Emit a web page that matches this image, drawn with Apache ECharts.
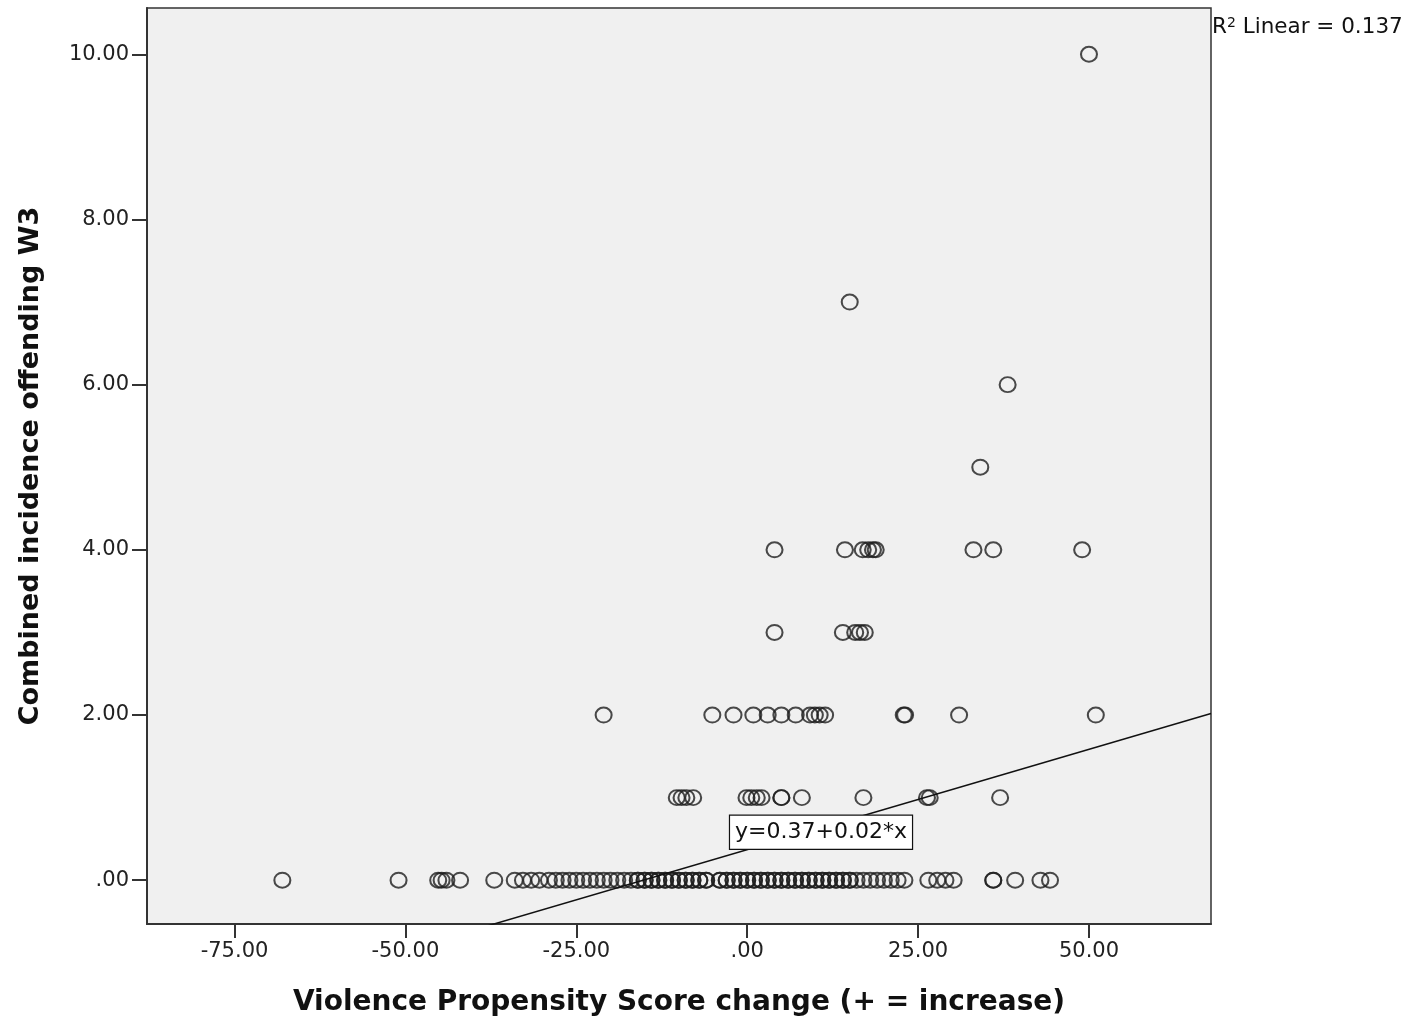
<!DOCTYPE html>
<html>
<head>
<meta charset="utf-8">
<script src="https://cdn.jsdelivr.net/npm/echarts@6/dist/echarts.min.js"></script>
<style>
html,body{margin:0;padding:0;background:#fff;}
#chart{width:1414px;height:1019px;}
</style>
</head>
<body>
<div id="chart"></div>
<script>
// Data (x = score change, y = offending count)
const row0 = [-68, -51, -45.2, -44.7, -44, -42, -37, -34, -32.8, -31.6, -30.4,
  -29, -28, -27, -26, -25, -24, -23, -22, -21, -20, -19, -18, -17, -16, -16, -15, -15, -14, -14,
  -13, -13, -12, -12, -11, -11, -10, -10, -9, -9, -8, -8, -7, -7, -6, -6, -4, -4, -3, -3, -2, -2,
  -1, -1, 0, 0, 1, 1, 2, 2, 3, 3, 4, 4, 5, 5, 6, 6, 7, 7, 8, 8, 9, 9, 10, 10, 11, 11, 12, 12,
  13, 13, 14, 14, 15, 15, 16, 17, 18, 19, 20, 21, 22, 23,
  26.5, 27.8, 29, 30.2, 36, 36, 39.2, 42.9, 44.3];
const row1 = [-10.3, -9.6, -8.9, -7.9, -0.1, 0.6, 1.4, 2.1, 5, 5, 8, 17, 26.3, 26.7, 37];
const row2 = [-21, -5.1, -2, 0.9, 3, 5, 7.1, 9.2, 9.9, 10.6, 11.4, 22.9, 23.1, 31, 51];
const row3 = [4, 14, 15.8, 16.5, 17.2];
const row4 = [4, 14.3, 16.9, 17.7, 18.4, 18.8, 33.1, 36, 49];
const row5 = [34.1];
const row6 = [38.1];
const row7 = [15];
const row10 = [50];
const rows = [[0, row0], [1, row1], [2, row2], [3, row3], [4, row4], [5, row5], [6, row6], [7, row7], [10, row10]];

const xTicks = [-75, -50, -25, 0, 25, 50];
const yTicks = [0, 2, 4, 6, 8, 10];
const xRange = [-87.8, 67.85];
const yRange = [-0.53, 10.56];
const fitIntercept = 0.37;
const fitSlope = 0.0243;
const fitLabel = 'y=0.37+0.02*x';
const fitLabelAt = [10.8, 0.58];
const r2Text = '0.137';

const points = [];
rows.forEach(([y, xs]) => xs.forEach(x => points.push([x, y])));

function fmt(v) {
  let s = Math.abs(v).toFixed(2);
  if (s.startsWith('0')) s = s.slice(1);
  return (v < 0 ? '-' : '') + s;
}

const font = 'DejaVu Sans';
const chart = echarts.init(document.getElementById('chart'));
chart.setOption({
  animation: false,
  backgroundColor: '#ffffff',
  grid: {
    left: 147, top: 8, right: 203, bottom: 95,
    outerBoundsMode: 'none', containLabel: false,
    show: true, backgroundColor: '#f0f0f0', borderColor: '#333', borderWidth: 1.5
  },
  xAxis: {
    type: 'value', min: xRange[0], max: xRange[1],
    name: 'Violence Propensity Score change (+ = increase)',
    nameLocation: 'middle', nameGap: 65,
    nameTextStyle: { fontFamily: font, fontWeight: 'bold', fontSize: 28, color: '#111' },
    axisLine: { show: true, onZero: false, lineStyle: { color: '#333', width: 2 } },
    axisTick: { show: true, length: 14, customValues: xTicks, lineStyle: { color: '#333', width: 2 } },
    axisLabel: { customValues: xTicks, formatter: fmt, fontFamily: font, fontSize: 21, color: '#222', margin: 17 },
    splitLine: { show: false }
  },
  yAxis: {
    type: 'value', min: yRange[0], max: yRange[1],
    name: 'Combined incidence offending W3',
    nameLocation: 'middle', nameGap: 103, nameRotate: 90,
    nameTextStyle: { fontFamily: font, fontWeight: 'bold', fontSize: 27, color: '#111' },
    axisLine: { show: true, onZero: false, lineStyle: { color: '#333', width: 2 } },
    axisTick: { show: true, length: 15, customValues: yTicks, lineStyle: { color: '#333', width: 2 } },
    axisLabel: { customValues: yTicks, formatter: fmt, fontFamily: font, fontSize: 21, color: '#222', margin: 18 },
    splitLine: { show: false }
  },
  series: [
    {
      type: 'scatter',
      data: points,
      symbol: 'circle',
      symbolSize: [16, 15],
      itemStyle: { color: 'rgba(0,0,0,0)', borderColor: '#1e1e1e', borderWidth: 2 },
      z: 3
    },
    {
      type: 'line',
      data: [[xRange[0], fitIntercept + fitSlope * xRange[0]], [xRange[1], fitIntercept + fitSlope * xRange[1]]],
      showSymbol: false, symbol: 'none',
      clip: true,
      lineStyle: { color: '#111', width: 1.5 },
      z: 4,
      markPoint: {
        symbol: 'rect', symbolSize: 1,
        itemStyle: { color: 'rgba(0,0,0,0)' },
        data: [{ coord: fitLabelAt, value: fitLabel }],
        label: {
          show: true, position: 'inside', formatter: fitLabel,
          fontFamily: font, fontSize: 22, color: '#111',
          backgroundColor: '#ffffff', borderColor: '#111', borderWidth: 1.2,
          padding: [6, 5, 5, 5]
        }
      }
    }
  ],
  graphic: [
    {
      type: 'text', left: 1212, top: 16,
      style: {
        text: 'R{sup|2} Linear = ' + r2Text,
        fontFamily: font, fontSize: 21.5, fill: '#111',
        rich: { sup: { fontSize: 14, verticalAlign: 'top', padding: [0, 0, 9, 0], fontFamily: font } }
      }
    }
  ]
});
</script>
</body>
</html>
